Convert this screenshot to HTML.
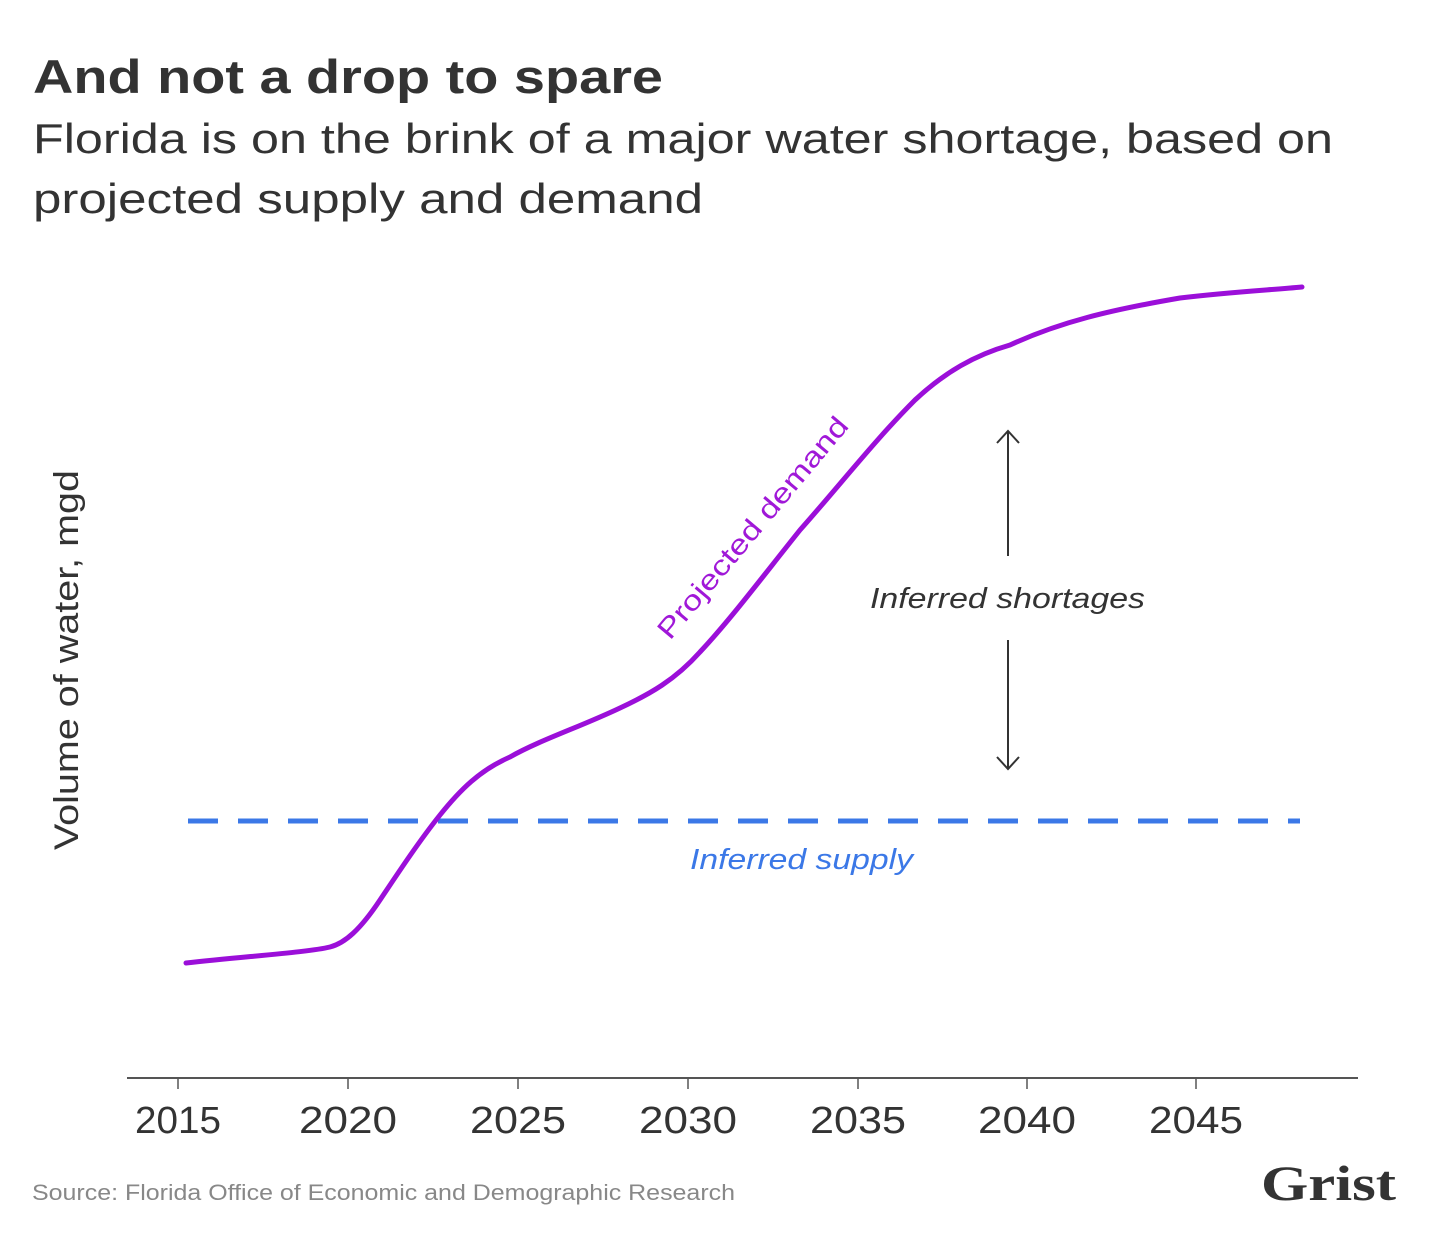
<!DOCTYPE html>
<html><head><meta charset="utf-8"><style>
body{margin:0;background:#fff;width:1440px;height:1234px;overflow:hidden;font-family:"Liberation Sans",sans-serif;}
</style></head><body>
<svg width="1440" height="1234" xmlns="http://www.w3.org/2000/svg" font-family="Liberation Sans, sans-serif">
<text x="33" y="93" font-size="47" font-weight="bold" fill="#333" textLength="630" lengthAdjust="spacingAndGlyphs">And not a drop to spare</text>
<text x="33" y="153" font-size="42" fill="#333" textLength="1300" lengthAdjust="spacingAndGlyphs">Florida is on the brink of a major water shortage, based on</text>
<text x="33" y="213" font-size="42" fill="#333" textLength="670" lengthAdjust="spacingAndGlyphs">projected supply and demand</text>
<text transform="translate(78,850) rotate(-90)" font-size="34" fill="#333" textLength="380" lengthAdjust="spacingAndGlyphs">Volume of water, mgd</text>
<line x1="127" y1="1078" x2="1358" y2="1078" stroke="#555" stroke-width="2"/>
<g stroke="#555" stroke-width="1.5">
<line x1="178" y1="1078" x2="178" y2="1089"/><line x1="348" y1="1078" x2="348" y2="1089"/><line x1="518" y1="1078" x2="518" y2="1089"/><line x1="688" y1="1078" x2="688" y2="1089"/><line x1="858" y1="1078" x2="858" y2="1089"/><line x1="1027" y1="1078" x2="1027" y2="1089"/><line x1="1196" y1="1078" x2="1196" y2="1089"/>
</g>
<g font-size="38" fill="#333" text-anchor="middle">
<text x="178" y="1133" textLength="86" lengthAdjust="spacingAndGlyphs">2015</text><text x="348" y="1133" textLength="98" lengthAdjust="spacingAndGlyphs">2020</text><text x="518" y="1133" textLength="96" lengthAdjust="spacingAndGlyphs">2025</text><text x="688" y="1133" textLength="98" lengthAdjust="spacingAndGlyphs">2030</text><text x="858" y="1133" textLength="96" lengthAdjust="spacingAndGlyphs">2035</text><text x="1027" y="1133" textLength="98" lengthAdjust="spacingAndGlyphs">2040</text><text x="1196" y="1133" textLength="94" lengthAdjust="spacingAndGlyphs">2045</text>
</g>
<line x1="188" y1="821" x2="1300" y2="821" stroke="#3b78e7" stroke-width="5" stroke-dasharray="30,20"/>
<path d="M186,963 C250,956 310,952 330,947 C345,943 360,930 380,900 C400,870 420,840 440,815 C460,790 480,770 510,757 C540,740 580,727 620,708 C650,694 675,680 700,652 C730,620 760,580 800,530 C840,485 875,440 915,400 C945,372 975,355 1010,345 C1060,322 1110,310 1180,298 C1230,292 1270,290 1302,287" fill="none" stroke="#9b0fd9" stroke-width="5" stroke-linecap="round"/>
<text transform="translate(670,641) rotate(-50)" font-size="28" fill="#a018d8" textLength="280" lengthAdjust="spacingAndGlyphs">Projected demand</text>
<text x="690" y="869" font-size="29" font-style="italic" fill="#3b78e7" textLength="223" lengthAdjust="spacingAndGlyphs">Inferred supply</text>
<text x="870" y="608" font-size="29" font-style="italic" fill="#333" textLength="275" lengthAdjust="spacingAndGlyphs">Inferred shortages</text>
<g stroke="#333" stroke-width="2" fill="none">
<line x1="1008" y1="432" x2="1008" y2="556"/><polyline points="997,443 1008,431 1019,443"/>
<line x1="1008" y1="640" x2="1008" y2="768"/><polyline points="997,757 1008,769 1019,757"/>
</g>
<text x="32" y="1200" font-size="22" fill="#888" textLength="703" lengthAdjust="spacingAndGlyphs">Source: Florida Office of Economic and Demographic Research</text>
<text x="1396" y="1200" font-size="50" font-family="Liberation Serif, serif" font-weight="bold" fill="#333" text-anchor="end" textLength="135" lengthAdjust="spacingAndGlyphs">Grist</text>
</svg>
</body></html>
